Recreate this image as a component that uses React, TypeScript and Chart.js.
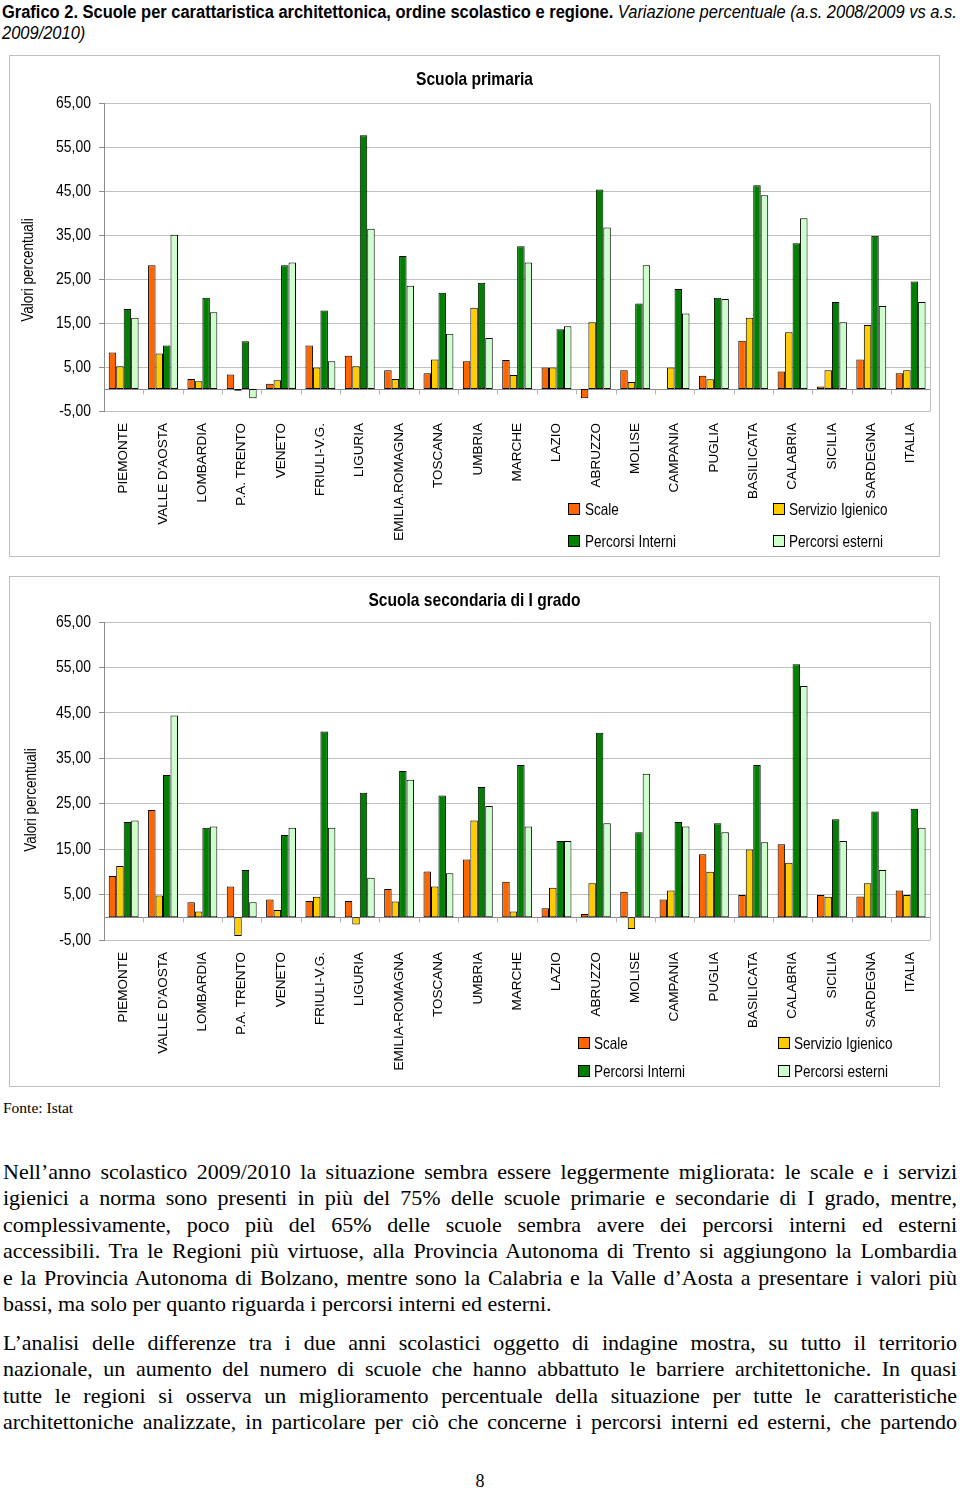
import React, { useEffect, useLayoutEffect, useRef, useState } from "react";
import { Chart, registerables } from "chart.js";

Chart.register(...registerables);

const categoriesPrimaria = ["PIEMONTE", "VALLE D'AOSTA", "LOMBARDIA", "P.A. TRENTO", "VENETO", "FRIULI-V.G.", "LIGURIA", "EMILIA.ROMAGNA", "TOSCANA", "UMBRIA", "MARCHE", "LAZIO", "ABRUZZO", "MOLISE", "CAMPANIA", "PUGLIA", "BASILICATA", "CALABRIA", "SICILIA", "SARDEGNA", "ITALIA"];
const categoriesSecondaria = ["PIEMONTE", "VALLE D'AOSTA", "LOMBARDIA", "P.A. TRENTO", "VENETO", "FRIULI-V.G.", "LIGURIA", "EMILIA-ROMAGNA", "TOSCANA", "UMBRIA", "MARCHE", "LAZIO", "ABRUZZO", "MOLISE", "CAMPANIA", "PUGLIA", "BASILICATA", "CALABRIA", "SICILIA", "SARDEGNA", "ITALIA"];

const seriesNames = ["Scale", "Servizio Igienico", "Percorsi Interni", "Percorsi esterni"];

const primariaScale = [8.3, 28.2, 2.3, 3.3, 1.2, 9.9, 7.6, 4.3, 3.6, 6.3, 6.6, 4.9, -2.1, 4.3, 0, 3.0, 11.0, 4.0, 0.6, 6.7, 3.6];
const primariaServizio = [5.2, 8.1, 1.8, -0.4, 2.0, 4.9, 5.2, 2.3, 6.7, 18.5, 3.2, 4.9, 15.2, 1.6, 4.9, 2.2, 16.2, 12.9, 4.3, 14.6, 4.3];
const primariaInterni = [18.2, 9.9, 20.8, 10.9, 28.2, 17.9, 57.8, 30.3, 21.9, 24.2, 32.5, 13.6, 45.4, 19.5, 22.8, 20.8, 46.4, 33.2, 19.8, 34.9, 24.5];
const primariaEsterni = [16.2, 35.1, 17.5, -2.1, 28.8, 6.3, 36.5, 23.5, 12.6, 11.6, 28.8, 14.3, 36.8, 28.2, 17.2, 20.5, 44.1, 38.9, 15.2, 18.9, 19.8];

const secondariaScale = [9.1, 23.6, 3.3, 6.8, 3.9, 3.6, 3.6, 6.2, 10.1, 12.7, 7.8, 2.0, 0.7, 5.6, 3.9, 13.9, 4.9, 16.1, 4.9, 4.6, 5.9];
const secondariaServizio = [11.3, 4.8, 1.3, -4.1, 1.6, 4.5, -1.6, 3.5, 6.8, 21.3, 1.3, 6.5, 7.5, -2.6, 5.9, 10.0, 14.9, 12.0, 4.5, 7.5, 4.9];
const secondariaInterni = [21.0, 31.3, 19.7, 10.4, 18.1, 40.9, 27.4, 32.2, 26.8, 28.7, 33.5, 16.8, 40.6, 18.7, 21.0, 20.7, 33.5, 55.7, 21.6, 23.3, 23.9];
const secondariaEsterni = [21.3, 44.4, 20.0, 3.3, 19.7, 19.7, 8.7, 30.3, 9.7, 24.5, 20.0, 16.8, 20.7, 31.6, 20.0, 18.7, 16.5, 50.9, 16.8, 10.4, 19.7];

const yMin = -5;
const yMax = 65;
const yStep = 10;

const COLORS = ["#FF6600", "#FFCC00", "#008000", "#CCFFCC"];
const SANS = '"Liberation Sans", Arial, sans-serif';
const SERIF = '"Liberation Serif", "Times New Roman", serif';
const NARROW_SCALE = 0.82;

const framePlugin = {
  id: "frame",
  beforeDatasetsDraw(chart: any) {
    const { ctx, chartArea, scales } = chart;
    const y0 = Math.round(scales.y.getPixelForValue(0)) + 0.5;
    ctx.save();
    ctx.lineWidth = 1;
    ctx.strokeStyle = "#8c8c8c";
    ctx.beginPath();
    ctx.moveTo(chartArea.left, y0);
    ctx.lineTo(chartArea.right, y0);
    ctx.stroke();
    ctx.strokeStyle = "#b4b4b4";
    ctx.beginPath();
    const n = chart.data.labels.length;
    for (let i = 1; i < n; i++) {
      const x = Math.round((scales.x.getPixelForValue(i - 1) + scales.x.getPixelForValue(i)) / 2) + 0.5;
      ctx.moveTo(x, y0);
      ctx.lineTo(x, y0 + 5);
    }
    ctx.stroke();
    ctx.strokeStyle = "#c0c0c0";
    ctx.beginPath();
    ctx.moveTo(Math.round(chartArea.right) + 0.5, chartArea.top);
    ctx.lineTo(Math.round(chartArea.right) + 0.5, chartArea.bottom);
    ctx.stroke();
    ctx.restore();
  },
  afterDraw(chart: any) {
    // narrow (condensed) text for y tick labels and the chart title
    const { ctx, scales } = chart;
    const y = scales.y;
    ctx.save();
    ctx.fillStyle = "#000";
    ctx.font = `17px ${SANS}`;
    ctx.textAlign = "right";
    ctx.textBaseline = "middle";
    y.ticks.forEach((t: any) => {
      const py = y.getPixelForValue(t.value);
      ctx.save();
      ctx.translate(y.right - 13, py);
      ctx.scale(NARROW_SCALE, 1);
      ctx.fillText(t.label, 0, 0);
      ctx.restore();
    });
    const topt = chart.options.plugins.title;
    const cy = topt.padding.top + 11.4;
    ctx.font = `bold 19px ${SANS}`;
    ctx.textAlign = "center";
    ctx.translate(chart.width / 2, cy);
    ctx.scale(NARROW_SCALE, 1);
    ctx.fillText(topt.text, 0, 0);
    ctx.restore();
  },
};

type ChartProps = {
  labels: string[];
  series: number[][];
  title: string;
  width: number;
  height: number;
  titlePadTop: number;
  titlePadBottom: number;
  xHeight: number;
};

function BarChart({ labels, series, title, width, height, titlePadTop, titlePadBottom, xHeight }: ChartProps) {
  const ref = useRef<HTMLCanvasElement>(null);
  useEffect(() => {
    if (!ref.current) return;
    const chart = new Chart(ref.current, {
      type: "bar",
      data: {
        labels,
        datasets: series.map((d, i) => ({
          label: seriesNames[i],
          data: d,
          backgroundColor: COLORS[i],
          borderColor: "#000000",
          borderWidth: 1,
          borderSkipped: false,
          categoryPercentage: 0.76,
          barPercentage: 1,
        })),
      },
      options: {
        responsive: false,
        maintainAspectRatio: false,
        animation: false,
        layout: { padding: { left: 0, right: 7, top: 0, bottom: 0 } },
        plugins: {
          legend: { display: false },
          tooltip: { enabled: false },
          title: {
            display: true,
            text: title,
            color: "rgba(0,0,0,0)",
            font: { family: SANS, size: 19, weight: "bold" },
            padding: { top: titlePadTop, bottom: titlePadBottom },
          },
        },
        scales: {
          x: {
            grid: { display: false, drawTicks: false },
            border: { display: false },
            ticks: {
              minRotation: 90,
              maxRotation: 90,
              autoSkip: false,
              padding: 12,
              color: "#000",
              font: { family: SANS, size: 13.5 },
            },
            afterFit: (s: any) => {
              s.height = xHeight;
            },
          },
          y: {
            min: yMin,
            max: yMax,
            ticks: {
              stepSize: yStep,
              padding: 8,
              color: "rgba(0,0,0,0)",
              font: { family: SANS, size: 17 },
              callback: (v: any) => Number(v).toFixed(2).replace(".", ","),
            },
            grid: { color: "#c0c0c0", tickLength: 5, tickColor: "#8c8c8c" },
            border: { display: true, color: "#8c8c8c" },
            afterFit: (s: any) => {
              s.width = 94;
            },
          },
        },
      } as any,
      plugins: [framePlugin],
    });
    return () => chart.destroy();
  }, []);
  return <canvas ref={ref} width={width} height={height} style={{ display: "block", width, height }} />;
}

function LegendItem({ x, textX, cy, color, text }: { x: number; textX: number; cy: number; color: string; text: string }) {
  return (
    <>
      <div style={{ position: "absolute", left: x, top: cy - 6, width: 10, height: 10, background: color, border: "1px solid #000" }} />
      <div style={{ position: "absolute", left: textX, top: cy - 10, height: 20, lineHeight: "20px", fontFamily: SANS, fontSize: 16.5, color: "#000", whiteSpace: "nowrap", transform: `scaleX(${NARROW_SCALE})`, transformOrigin: "0 50%" }}>{text}</div>
    </>
  );
}

function YTitle({ cx, cy }: { cx: number; cy: number }) {
  return (
    <div style={{ position: "absolute", left: cx - 100, top: cy - 10, width: 200, height: 20, lineHeight: "20px", textAlign: "center", fontFamily: SANS, fontSize: 16.5, color: "#000", transform: `rotate(-90deg) scaleX(${NARROW_SCALE})`, whiteSpace: "nowrap" }}>
      Valori percentuali
    </div>
  );
}

function PageTitle() {
  const ref = useRef<HTMLSpanElement>(null);
  const [scale, setScale] = useState(1);
  useLayoutEffect(() => {
    if (ref.current) {
      const w = ref.current.offsetWidth;
      if (w > 0) setScale(955 / w);
    }
  }, []);
  return (
    <div style={{ position: "absolute", left: 2, top: 2, fontFamily: SANS, fontSize: 18, lineHeight: "21px", color: "#000", whiteSpace: "nowrap", transform: `scaleX(${scale})`, transformOrigin: "0 0" }}>
      <span ref={ref} style={{ display: "inline-block" }}>
        <b>Grafico 2. Scuole per carattaristica architettonica, ordine scolastico e regione.</b>{" "}
        <i>Variazione percentuale (a.s. 2008/2009 vs a.s.</i>
      </span>
      <br />
      <i>2009/2010)</i>
    </div>
  );
}

const para1 = [
  "Nell’anno scolastico 2009/2010 la situazione sembra essere leggermente migliorata: le scale e i servizi",
  "igienici a norma sono presenti in più del 75% delle scuole primarie e secondarie di I grado, mentre,",
  "complessivamente, poco più del 65% delle scuole sembra avere dei percorsi interni ed esterni",
  "accessibili. Tra le Regioni più virtuose, alla Provincia Autonoma di Trento si aggiungono la Lombardia",
  "e la Provincia Autonoma di Bolzano, mentre sono la Calabria e la Valle d’Aosta a presentare i valori più",
  "bassi, ma solo per quanto riguarda i percorsi interni ed esterni.",
];
const para2 = [
  "L’analisi delle differenze tra i due anni scolastici oggetto di indagine mostra, su tutto il territorio",
  "nazionale, un aumento del numero di scuole che hanno abbattuto le barriere architettoniche. In quasi",
  "tutte le regioni si osserva un miglioramento percentuale della situazione per tutte le caratteristiche",
  "architettoniche analizzate, in particolare per ciò che concerne i percorsi interni ed esterni, che partendo",
];

function Paragraph({ lines, top, lastJustified }: { lines: string[]; top: number; lastJustified: boolean }) {
  return (
    <div style={{ position: "absolute", left: 3, top, width: 954, fontFamily: SERIF, fontSize: 22, lineHeight: "26.4px", color: "#000" }}>
      {lines.map((l, i) => {
        const justify = i < lines.length - 1 || lastJustified;
        return (
          <div key={i} style={{ whiteSpace: "nowrap", textAlign: justify ? "justify" : "left", textAlignLast: justify ? "justify" : "left" } as any}>
            {l}
          </div>
        );
      })}
    </div>
  );
}

export default function App() {
  return (
    <div style={{ position: "absolute", left: 0, top: 0, width: 960, height: 1490, background: "#fff", overflow: "hidden" }}>
      <PageTitle />

      <div style={{ position: "absolute", left: 9, top: 55, width: 931, height: 502, border: "1px solid #bfbfbf", boxSizing: "border-box" }}>
        <BarChart
          labels={categoriesPrimaria}
          series={[primariaScale, primariaServizio, primariaInterni, primariaEsterni]}
          title="Scuola primaria"
          width={929}
          height={500}
          titlePadTop={12.6}
          titlePadBottom={12.1}
          xHeight={145}
        />
      </div>
      <YTitle cx={27} cy={270} />
      <LegendItem x={568} textX={585} cy={509} color={COLORS[0]} text={seriesNames[0]} />
      <LegendItem x={773} textX={789} cy={509} color={COLORS[1]} text={seriesNames[1]} />
      <LegendItem x={568} textX={585} cy={541} color={COLORS[2]} text={seriesNames[2]} />
      <LegendItem x={773} textX={789} cy={541} color={COLORS[3]} text={seriesNames[3]} />

      <div style={{ position: "absolute", left: 9, top: 576, width: 931, height: 511, border: "1px solid #bfbfbf", boxSizing: "border-box" }}>
        <BarChart
          labels={categoriesSecondaria}
          series={[secondariaScale, secondariaServizio, secondariaInterni, secondariaEsterni]}
          title="Scuola secondaria di I grado"
          width={929}
          height={509}
          titlePadTop={12.6}
          titlePadBottom={9.6}
          xHeight={146}
        />
      </div>
      <YTitle cx={30} cy={800} />
      <LegendItem x={578} textX={594} cy={1043} color={COLORS[0]} text={seriesNames[0]} />
      <LegendItem x={778} textX={794} cy={1043} color={COLORS[1]} text={seriesNames[1]} />
      <LegendItem x={578} textX={594} cy={1071} color={COLORS[2]} text={seriesNames[2]} />
      <LegendItem x={778} textX={794} cy={1071} color={COLORS[3]} text={seriesNames[3]} />

      <div style={{ position: "absolute", left: 3, top: 1098, fontFamily: SERIF, fontSize: 15.5, lineHeight: "20px", color: "#000" }}>Fonte: Istat</div>

      <Paragraph lines={para1} top={1159} lastJustified={false} />
      <Paragraph lines={para2} top={1330} lastJustified={true} />

      <div style={{ position: "absolute", left: 470, top: 1470, width: 20, textAlign: "center", fontFamily: SERIF, fontSize: 18, lineHeight: "22px", color: "#000" }}>8</div>
    </div>
  );
}
